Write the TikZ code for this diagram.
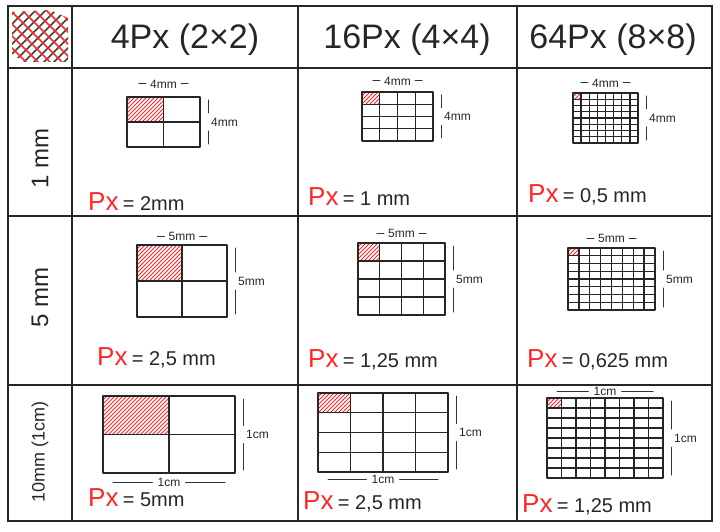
\documentclass[tikz,border=0pt]{standalone}
\usepackage{fontspec}
\setmainfont{Liberation Sans}
\tikzset{
  tableline/.style={line width=1.6pt, draw=black!85, line cap=round},
  gridline/.style={line width=1.4pt, draw=black!85, line cap=round, line join=round},
  hatchline/.style={line width=0.9pt, draw=red!85},
  blackhatch/.style={line width=1.5pt, draw=black!75, line cap=round},
  redhatch/.style={line width=1.5pt, draw=red!85, line cap=round},
  dimline/.style={line width=1pt, draw=black!80, line cap=round},
  dimtext/.style={font=\fontsize{12}{12}\selectfont, text=black!85, inner sep=1pt},
  headtext/.style={font=\fontsize{34}{34}\selectfont, text=black!85},
  rowtext/.style={font=\fontsize{24}{24}\selectfont, text=black!85, rotate=90},
}
% pixel grid: x1 y1 x2 y2 n
\newcommand\pixgrid[5]{%
  \begin{scope}
    \clip (#1,#2) rectangle ({#1+(#3-#1)/#5},{#2+(#4-#2)/#5});
    \foreach \k in {-100,-96,...,80} {\draw[hatchline] ({#1+\k},{#2+100}) -- ++(100,-100);}
  \end{scope}
  \draw[gridline] (#1,#2) rectangle (#3,#4);
  \pgfmathtruncatemacro\nmo{#5-1}
  \foreach \i in {1,...,\nmo} {
    \draw[gridline] ({#1+(#3-#1)*\i/#5},#2) -- ({#1+(#3-#1)*\i/#5},#4);
    \draw[gridline] (#1,{#2+(#4-#2)*\i/#5}) -- (#3,{#2+(#4-#2)*\i/#5});
  }
}
% right dimension: x2 y1 y2 text name
\newcommand\dimright[5]{%
  \pgfmathsetmacro\ymid{(#2+#3)/2}
  \draw[dimline] ({#1+8},{#2+3}) -- ({#1+8},{\ymid-9});
  \draw[dimline] ({#1+8},{\ymid+9}) -- ({#1+8},{#3-3});
  \node[dimtext, anchor=west] (#5) at ({#1+10},\ymid) {#4};
}
% top dimension: x1 x2 y text name
\newcommand\dimtop[5]{%
  \node[dimtext] (#5) at ({(#1+#2)/2},#3) {#4};
  \draw[dimline] ($(#5.west)+(-10,0)$) -- ($(#5.west)+(-3,0)$);
  \draw[dimline] ($(#5.east)+(3,0)$) -- ($(#5.east)+(10,0)$);
}
% wide dimension: x1 x2 y text name
\newcommand\dimwide[5]{%
  \node[dimtext] (#5) at ({(#1+#2)/2},#3) {#4};
  \draw[dimline] ({#1+10},#3) -- ($(#5.west)+(-4,0)$);
  \draw[dimline] ($(#5.east)+(4,0)$) -- ({#2-10},#3);
}
% pixel size label: x y value name
\newcommand\pxlabel[4]{%
  \node[anchor=west, inner sep=0pt] (#4) at (#1,#2)
    {\fontsize{26}{26}\selectfont\color{red!85}Px\,\color{black!85}\fontsize{20}{20}\selectfont= #3};
}
\usetikzlibrary{calc}
\begin{document}
\begin{tikzpicture}[x=1pt, y=-1pt]
  \useasboundingbox (0,0) rectangle (720,532);
  % table
  \draw[tableline] (8,6) rectangle (712,521);
  \draw[tableline] (72,6) -- (72,521);
  \draw[tableline] (298,6) -- (298,521);
  \draw[tableline] (517,6) -- (517,521);
  \draw[tableline] (8,68) -- (712,68);
  \draw[tableline] (8,216) -- (712,216);
  \draw[tableline] (8,385) -- (712,385);
  % corner hatching
  \begin{scope}
    \clip (12,12) -- (50,10) -- (68,18) -- (68,62) -- (24,62) -- (12,54) -- cycle;
    \foreach \k in {-50,-40,...,60} {\draw[blackhatch] ({12+\k},64) -- ++(60,-60);}
    \foreach \k in {-50,-38,...,60} {\draw[redhatch] ({12+\k},10) -- ++(60,60);}
  \end{scope}
  % headers
  \node[headtext] (h1) at (185,40) {4Px (2×2)};
  \node[headtext] (h2) at (407,40) {16Px (4×4)};
  \node[headtext] (h3) at (613,40) {64Px (8×8)};
  \node[rowtext] (r1) at (40,158) {1 mm};
  \node[rowtext] (r2) at (40,297) {5 mm};
  \node[rowtext, font=\fontsize{18}{18}\selectfont] (r3) at (40,452) {10mm (1cm)};
  % row 1 : 4 mm
  \pixgrid{127}{97}{200}{147}{2}
  \dimtop{127}{200}{84}{4mm}{d11t}
  \dimright{200}{97}{147}{4mm}{d11r}
  \pxlabel{88}{202}{2mm}{p11}
  \pixgrid{362}{92}{433}{141}{4}
  \dimtop{362}{433}{81}{4mm}{d12t}
  \dimright{433}{92}{141}{4mm}{d12r}
  \pxlabel{308}{197}{1 mm}{p12}
  \pixgrid{573}{93}{638}{143}{8}
  \dimtop{573}{638}{83}{4mm}{d13t}
  \dimright{638}{93}{143}{4mm}{d13r}
  \pxlabel{528}{195}{0,5 mm}{p13}
  % row 2 : 5 mm
  \pixgrid{137}{245}{227}{317}{2}
  \dimtop{137}{227}{236}{5mm}{d21t}
  \dimright{227}{245}{317}{5mm}{d21r}
  \pxlabel{97}{358}{2,5 mm}{p21}
  \pixgrid{358}{243}{445}{315}{4}
  \dimtop{358}{445}{233}{5mm}{d22t}
  \dimright{445}{243}{315}{5mm}{d22r}
  \pxlabel{308}{360}{1,25 mm}{p22}
  \pixgrid{568}{248}{655}{310}{8}
  \dimtop{568}{655}{238}{5mm}{d23t}
  \dimright{655}{248}{310}{5mm}{d23r}
  \pxlabel{527}{360}{0,625 mm}{p23}
  % row 3 : 1 cm
  \pixgrid{103}{396}{235}{473}{2}
  \dimwide{103}{235}{482}{1cm}{d31b}
  \dimright{235}{396}{473}{1cm}{d31r}
  \pxlabel{88}{498}{5mm}{p31}
  \pixgrid{318}{393}{448}{472}{4}
  \dimwide{318}{448}{479}{1cm}{d32b}
  \dimright{448}{393}{472}{1cm}{d32r}
  \pxlabel{303}{502}{2,5 mm}{p32}
  \pixgrid{547}{398}{663}{478}{8}
  \dimwide{547}{663}{391}{1cm}{d33t}
  \dimright{663}{398}{478}{1cm}{d33r}
  \pxlabel{522}{505}{1,25 mm}{p33}
\end{tikzpicture}
\end{document}
